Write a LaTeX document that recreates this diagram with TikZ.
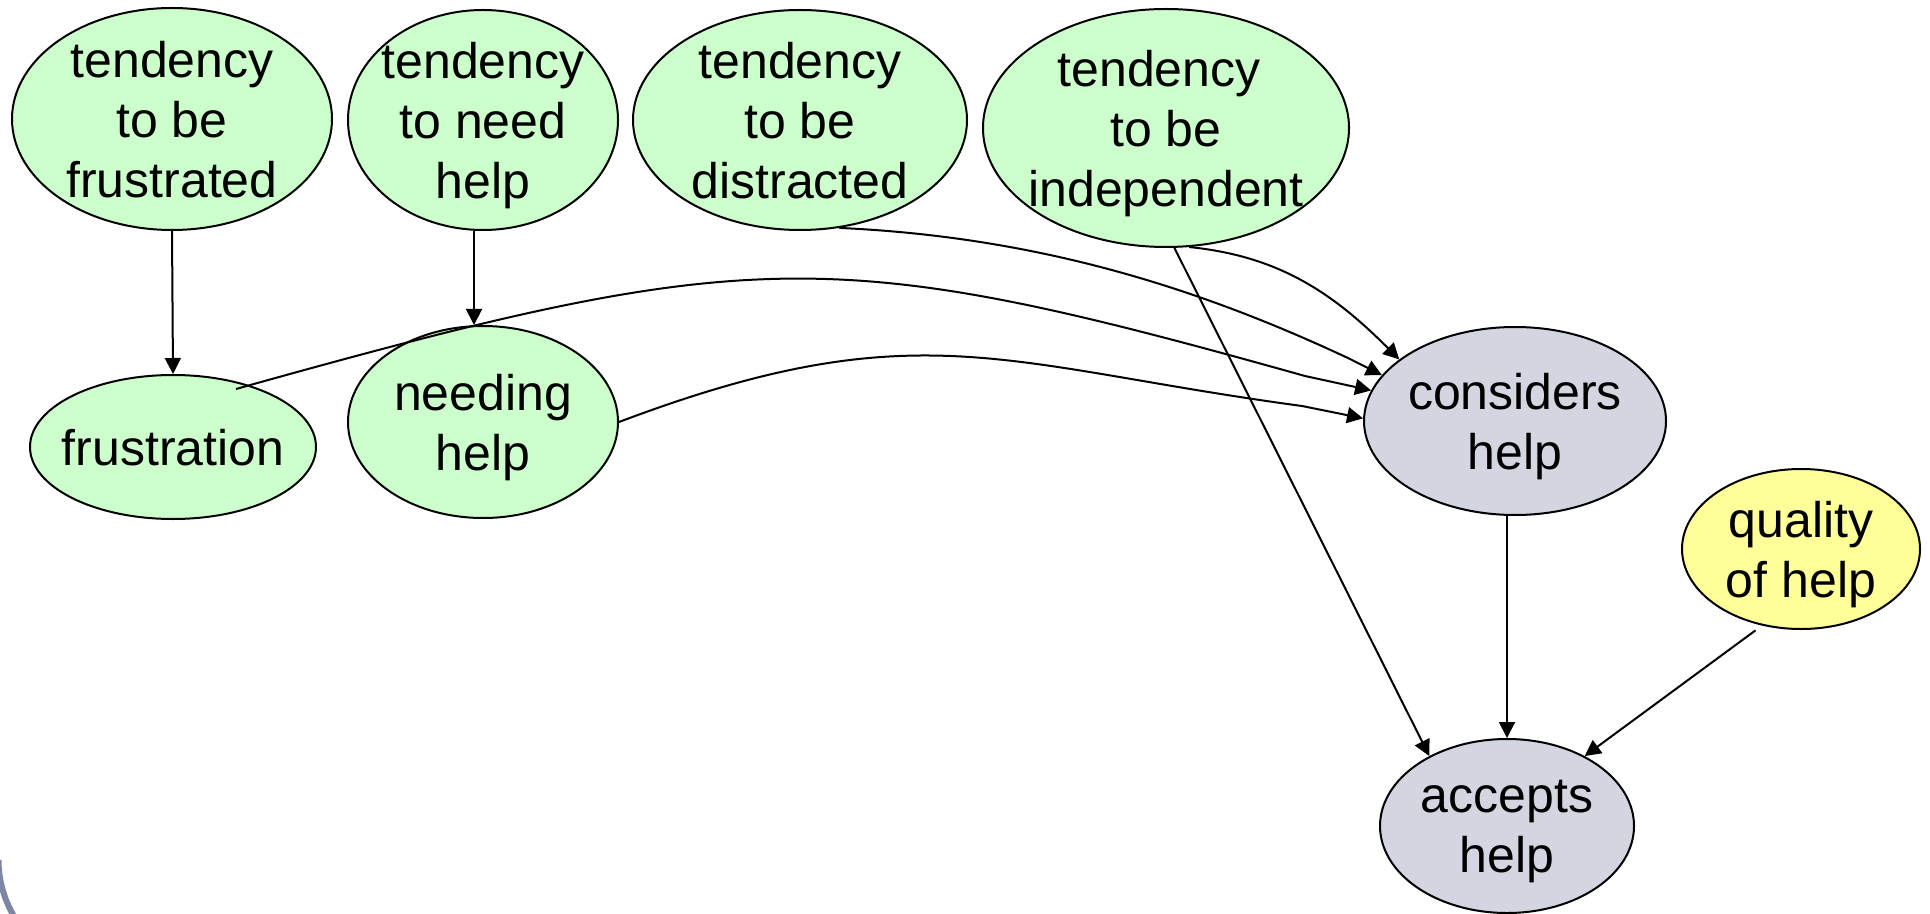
\documentclass[tikz,border=0pt]{standalone}
\usepackage{fontspec}
\setmainfont{Liberation Sans}
\usetikzlibrary{arrows.meta,calc,shapes.geometric}

\definecolor{nodegreen}{HTML}{CCFFCC}
\definecolor{nodegray}{HTML}{D3D5E0}
\definecolor{nodeyellow}{HTML}{FFFF99}
\definecolor{framegray}{HTML}{7D86A3}

\tikzset{
  varnode/.style={ellipse,draw=black,line width=1pt,inner sep=-25pt,align=center,
    font=\fontsize{25pt}{30pt}\selectfont,text depth=0pt},
  axes/.style n args={2}{minimum width=#1pt,minimum height=#2pt},
  trait/.style={varnode,fill=nodegreen},
  decision/.style={varnode,fill=nodegray},
  helpquality/.style={varnode,fill=nodeyellow},
  edge/.style={line width=1pt,-{Triangle[length=8pt,width=8pt]}},
  slideframe/.style={draw=framegray,line width=3pt}
}

\begin{document}
\begin{tikzpicture}[x=0.5pt,y=-0.5pt]

\useasboundingbox (0,0) rectangle (1930,914);
\fill[white] (0,0) rectangle (1930,914);

% corner of the slide frame
\draw[slideframe] (-1.5,860) .. controls (-1.5,885.4) and (7.5,910.3) .. (23.5,930);

% variables
\node[trait,axes={160}{111}] (tbf) at (172,119) {tendency\\to be\\frustrated};
\node[trait,axes={135}{110}] (tnh) at (483,120) {tendency\\to need\\help};
\node[trait,axes={167}{110}] (tbd) at (800,120) {tendency\\to be\\distracted};
\node[trait,axes={183}{119}] (tbi) at (1166,128) {tendency\hspace*{0.28em}\\to be\\independent};
\node[trait,axes={143}{72}] (frus) at (173,447) {frustration};
\node[trait,axes={135}{96}] (nh) at (483,422) {needing\\help};
\node[decision,axes={151}{94}] (cons) at (1515,421) {considers\\help};
\node[helpquality,axes={119}{80}] (qual) at (1801,549) {quality\\of help};
\node[decision,axes={127}{87}] (acc) at (1507,826) {accepts\\help};

% influences
\draw[edge] (tbf.south) -- (frus.north);
\draw[edge] ($(tnh.south)+(-9,0)$) coordinate (b0) -- (b0 |- nh.north);

\coordinate (kc) at (1305,376);
\draw[edge] ($(frus.center)+(63,-58)$) .. controls (754,244) and (834,244) .. (kc) -- (cons.168);

\coordinate (kd) at (1302,406);
\draw[edge] (nh.east) .. controls (918,309) and (1002,365.5) .. (kd) -- (cons.179);

\coordinate (ke) at (1350,359);
\draw[edge] (tbd.-70) .. controls (1039,237) and (1200,288.5) .. (ke) -- (cons.161);

\draw[edge] (tbi.-79) .. controls (1278,256) and (1332,292) .. (cons.152);

\draw[edge] (tbi.-86) -- (acc.138);
\draw[edge] (acc.north |- cons.south) -- (acc.north);
\draw[edge,shorten <=4pt] (qual.-117) -- (acc.42);

\end{tikzpicture}
\end{document}
